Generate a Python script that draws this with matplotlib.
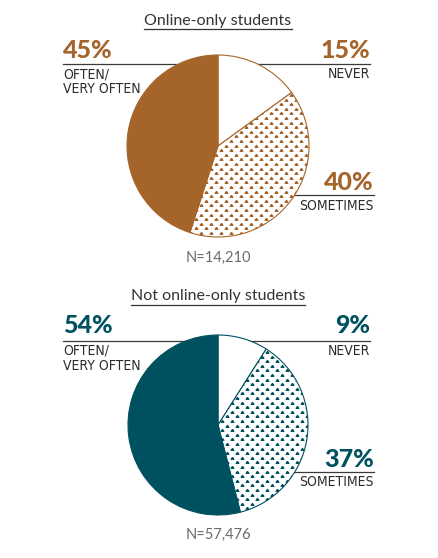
import numpy as np
import matplotlib
matplotlib.use("Agg")
import matplotlib.pyplot as plt
from matplotlib import font_manager
from matplotlib.path import Path

# ---- data ----
titles = ["Online-only students", "Not online-only students"]
categories = ["NEVER", "SOMETIMES", "OFTEN/\nVERY OFTEN"]
online_values = [15, 40, 45]
not_online_values = [9, 37, 54]
n_labels = ["N=14,210", "N=57,476"]
colors = ["#A5652A", "#005160"]

# pick a condensed font if available
cond_family, cond_stretch = "DejaVu Sans", "normal"
best = None
for f in font_manager.fontManager.ttflist:
    st = f.stretch
    narrow = ("Narrow" in f.name) or ("Condensed" in f.name) or (st not in ("normal", 400, "400"))
    if narrow and f.style == "normal":
        if "Liberation Sans Narrow" in f.name:
            score = 3
        elif "DejaVu" in f.name:
            score = 2
        else:
            score = 1
        if best is None or score > best[0]:
            best = (score, f.name, st)
if best is not None:
    cond_family, cond_stretch = best[1], best[2]

W, H = 439, 558
fig = plt.figure(figsize=(W / 100, H / 100), dpi=100)
ax = fig.add_axes([0, 0, 1, 1])
ax.set_xlim(0, W)
ax.set_ylim(0, H)
ax.set_aspect("equal")
ax.axis("off")

def Y(y):
    return H - y

pct_font = dict(family=["Lato", "DejaVu Sans"], weight="black", size=18)
cat_font = dict(family=[cond_family, "DejaVu Sans"], stretch=cond_stretch, size=10, color="#2b2b2b")
title_font = dict(family=["Lato", "DejaVu Sans"], size=11.5, color="#333333")
line_color = "#3a3a3a"

dome = Path([(-1.0, -0.6), (-0.75, 0.1), (-0.3, 0.6), (0.3, 0.6), (0.75, 0.1), (1.0, -0.6), (-1.0, -0.6)],
            [Path.MOVETO] + [Path.LINETO] * 5 + [Path.CLOSEPOLY])

panels = [
    dict(vals=online_values, cy=146, r=91, title_y=21, ul_y=29, top_base=58, top_line=64,
         cat1=74, cat2=89, som_base=190, som_line=195, som_cat=206, n_y=258),
    dict(vals=not_online_values, cy=425, r=90, title_y=296, ul_y=305, top_base=333, top_line=341,
         cat1=351, cat2=366, som_base=467, som_line=472, som_cat=482, n_y=535),
]

cx = 218
left_x, right_x, right_x2 = 63, 370, 374

renderer = fig.canvas.get_renderer()
inv = ax.transData.inverted()

for i, p in enumerate(panels):
    col = colors[i]
    vals = p["vals"]
    cy = p["cy"]
    t = ax.text(cx, Y(p["title_y"]), titles[i], ha="center", va="center", **title_font)
    bb = t.get_window_extent(renderer=renderer)
    x0, _ = inv.transform((bb.x0, bb.y0))
    x1, _ = inv.transform((bb.x1, bb.y0))
    ax.plot([x0, x1], [Y(p["ul_y"])] * 2, color="#333333", lw=0.9, zorder=3)

    ax.plot([left_x, cx], [Y(p["top_line"])] * 2, color=line_color, lw=0.9, zorder=1)
    ax.plot([cx, right_x], [Y(p["top_line"])] * 2, color=line_color, lw=0.9, zorder=1)
    ax.plot([cx, right_x2], [Y(p["som_line"])] * 2, color=line_color, lw=0.9, zorder=1)

    wedges, _ = ax.pie(vals, startangle=90, counterclock=False, center=(cx, Y(cy)),
                       radius=p["r"], colors=["white", "white", col],
                       wedgeprops=dict(edgecolor=col, linewidth=0.8), frame=True)
    for w in wedges:
        w.set_zorder(2)

    gx = np.arange(cx - p["r"] - 6, cx + p["r"] + 6, 10.0)
    gy = np.arange(cy - p["r"] - 6, cy + p["r"] + 6, 4.6)
    pts_x, pts_y = [], []
    for k, yy in enumerate(gy):
        off = 5.0 if k % 2 else 0.0
        pts_x.extend(gx + off)
        pts_y.extend([Y(yy)] * len(gx))
    sc = ax.scatter(pts_x, pts_y, marker=dome, s=9, color=col, linewidths=0, zorder=2.5)
    sc.set_clip_path(wedges[1])

    ax.text(left_x, Y(p["top_base"]), f"{vals[2]}%", ha="left", va="baseline", color=col, **pct_font)
    ax.text(right_x, Y(p["top_base"]), f"{vals[0]}%", ha="right", va="baseline", color=col, **pct_font)
    ax.text(right_x2, Y(p["som_base"]), f"{vals[1]}%", ha="right", va="baseline", color=col, **pct_font)

    ax.text(left_x, Y(p["cat1"]), "OFTEN/", ha="left", va="center", **cat_font)
    ax.text(left_x, Y(p["cat2"]), "VERY OFTEN", ha="left", va="center", **cat_font)
    ax.text(right_x, Y(p["cat1"]), categories[0], ha="right", va="center", **cat_font)
    ax.text(right_x2, Y(p["som_cat"]), categories[1], ha="right", va="center", **cat_font)

    ax.text(cx, Y(p["n_y"]), n_labels[i], ha="center", va="center",
            family=["Lato", "DejaVu Sans"], size=10.5, color="#6b6b6b")

ax.set_xlim(0, W)
ax.set_ylim(0, H)
ax.axis("off")
fig.savefig("out.png", dpi=100, facecolor="white")
